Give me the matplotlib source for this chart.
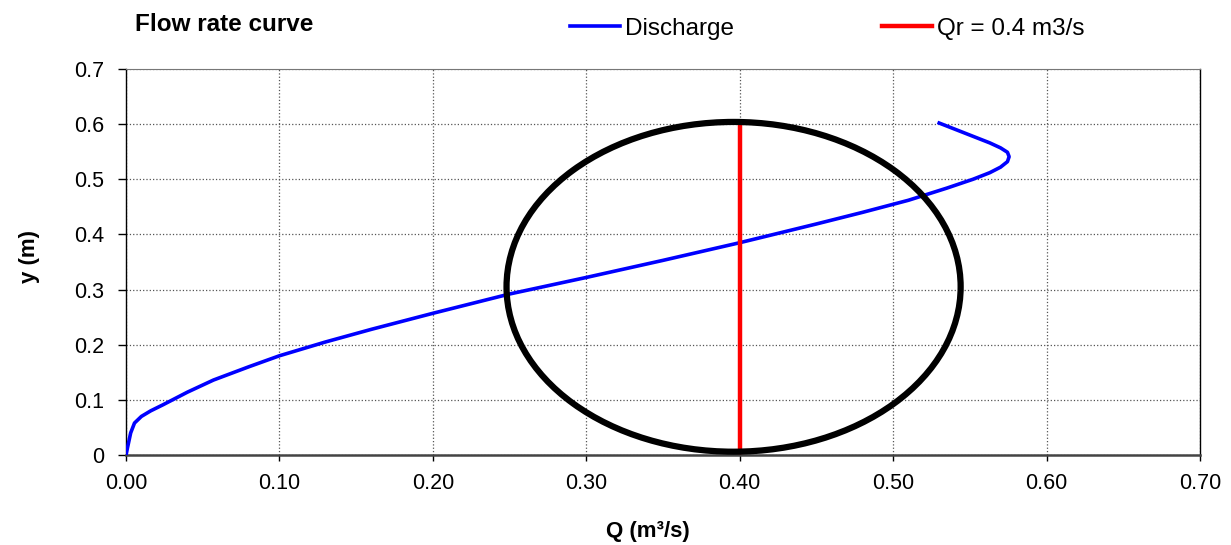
import matplotlib.pyplot as plt
from matplotlib.patches import Ellipse

plt.rcParams['font.family'] = ['Liberation Sans', 'DejaVu Sans']

# discharge curve
q = [0.0, 0.001, 0.003, 0.0055, 0.010, 0.016, 0.024, 0.040, 0.057, 0.080, 0.100,
     0.130, 0.160, 0.200, 0.250, 0.300, 0.350, 0.400, 0.450, 0.480, 0.510,
     0.535, 0.552, 0.563, 0.570, 0.5745, 0.5756, 0.5745, 0.570, 0.563, 0.552,
     0.541, 0.530]
y = [0.0, 0.014, 0.040, 0.058, 0.070, 0.080, 0.091, 0.114, 0.136, 0.160, 0.180,
     0.205, 0.228, 0.257, 0.292, 0.322, 0.353, 0.385, 0.419, 0.440, 0.462,
     0.484, 0.500, 0.512, 0.522, 0.532, 0.541, 0.549, 0.557, 0.566, 0.578,
     0.590, 0.602]

qr = 0.40
qr_y = [0.005, 0.60]

# circle marking the region of interest (centre, width, height in data units)
circle_c = (0.396, 0.305)
circle_w = 0.296
circle_h = 0.598

xticks = [0.0, 0.1, 0.2, 0.3, 0.4, 0.5, 0.6, 0.7]
yticks = [0.0, 0.1, 0.2, 0.3, 0.4, 0.5, 0.6, 0.7]

fig = plt.figure(figsize=(12.31, 5.45), dpi=100)
ax = fig.add_axes([0.1024, 0.1651, 0.8724, 0.7083])

ax.plot(q, y, color='#0000ff', lw=2.6, label='Discharge', zorder=3,
        solid_joinstyle='round')
ax.plot([qr, qr], qr_y, color='#ff0000', lw=3.2, label='Qr = 0.4 m3/s', zorder=4)
ax.add_patch(Ellipse(circle_c, circle_w, circle_h, fill=False, ec='black', lw=4.5, zorder=5))

ax.set_xlim(0, 0.7)
ax.set_ylim(0, 0.7)
ax.set_xticks(xticks)
ax.set_xticklabels(['%.2f' % v for v in xticks])
ax.set_yticks(yticks)
ax.set_yticklabels(['0'] + ['%.1f' % v for v in yticks[1:]])
ax.tick_params(axis='x', labelsize=15.5, length=4, width=1, direction='out', pad=9)
ax.tick_params(axis='y', labelsize=15.5, length=6, width=1, direction='out', pad=10)
ax.grid(True, color='#555555', ls=':', lw=0.9)

for s in ['left', 'right']:
    ax.spines[s].set_color('black')
    ax.spines[s].set_linewidth(1)
ax.spines['top'].set_color('#777777')
ax.spines['top'].set_linewidth(0.8)
ax.spines['bottom'].set_color('#444444')
ax.spines['bottom'].set_linewidth(1.8)

fig.text(648 / 1231, 0.024, 'Q (m³/s)', fontsize=16, fontweight='bold',
         ha='center', va='center')
fig.text(30 / 1231, 0.53, 'y (m)', fontsize=16, fontweight='bold',
         ha='center', va='center', rotation=90)

fig.text(135 / 1231, 0.955, 'Flow rate curve', fontsize=17.5, fontweight='bold', va='center')
fig.legend(loc='center left', bbox_to_anchor=(570 / 1231, 0.947), ncol=2, frameon=False,
           fontsize=17.5, handlelength=2.05, handletextpad=0.2, columnspacing=6.1,
           borderpad=0, borderaxespad=0)

fig.savefig('out.png', dpi=100)
